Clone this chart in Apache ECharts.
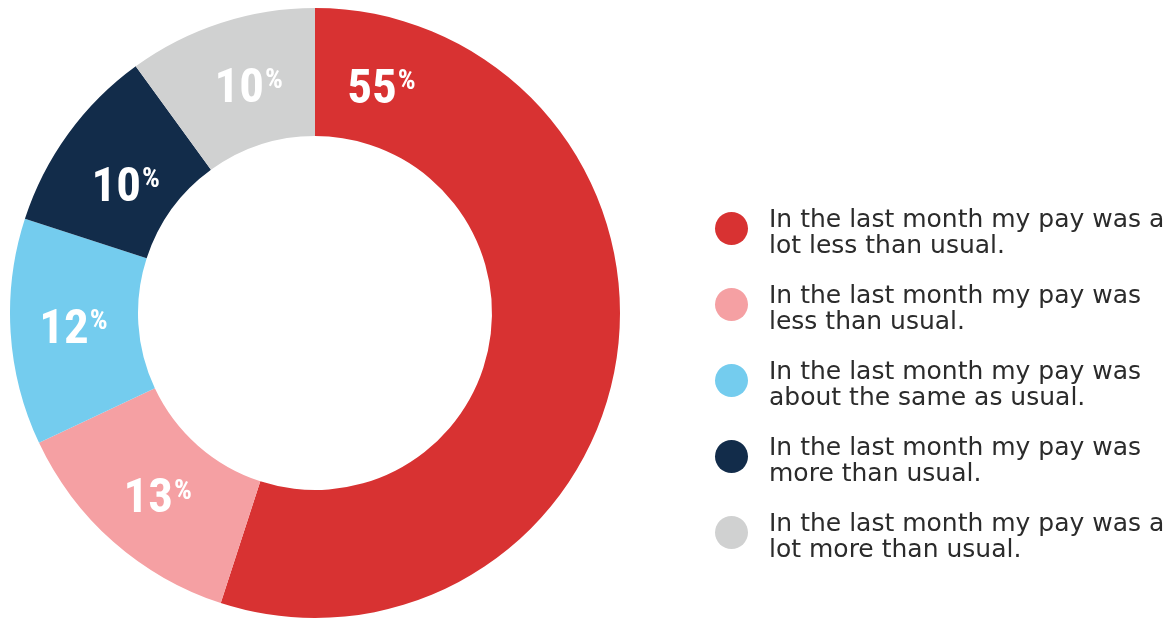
<!DOCTYPE html>
<html>
<head>
<meta charset="utf-8">
<script src="https://cdn.jsdelivr.net/npm/echarts@6/dist/echarts.min.js"></script>
<style>
  html, body { margin: 0; padding: 0; background: #fff; }
  #chart { width: 1175px; height: 618px; }
</style>
</head>
<body>
<div id="chart"></div>
<script>
// data
var categories = [
    'In the last month my pay was a lot less than usual.',
    'In the last month my pay was less than usual.',
    'In the last month my pay was about the same as usual.',
    'In the last month my pay was more than usual.',
    'In the last month my pay was a lot more than usual.'
];
var values = [55, 13, 12, 10, 10];
var colors = ['#D83232', '#F5A0A3', '#74CCEE', '#122C4A', '#D0D1D1'];

var cx = 315, cy = 313, r0 = 177, r1 = 305;
var numFont = '"Roboto Condensed", "Noto Sans Condensed", "DejaVu Sans Condensed", sans-serif';
var legendFont = '"DejaVu Sans", sans-serif';
// small nudges so the labels sit where the original put them
var labelNudge = [[0, 9], [4, 4], [2, 2], [8, 19], [9, 9]];

var mychart = echarts.init(document.getElementById('chart'));

var pieData = [];
for (var i = 0; i < categories.length; i++) {
    pieData.push({ name: categories[i], value: values[i], itemStyle: { color: colors[i] } });
}

option = {
    animation: false,
    legend: {
        orient: 'vertical',
        left: 710,
        top: 193,
        icon: 'circle',
        itemWidth: 33,
        itemHeight: 33,
        itemGap: 15,
        selectedMode: false,
        data: categories,
        formatter: function (name) {
            // wrap like the original: break before "lot"/"less"/"about"/"more"
            var parts = name.replace(/ (lot|less|about|more) /, '\n$1 ').split('\n');
            return '{a|' + parts[0] + '}\n{a|' + parts[1] + '}';
        },
        textStyle: {
            fontFamily: legendFont,
            fontSize: 25,
            color: '#2b2b2b',
            padding: [0, 0, 0, 16],
            rich: {
                a: { fontFamily: legendFont, fontSize: 25, lineHeight: 26, color: '#2b2b2b', padding: [10, 0, 0, 0] }
            }
        }
    },
    series: [
        {
            type: 'pie',
            center: [cx, cy],
            radius: [r0, r1],
            startAngle: 90,
            clockwise: true,
            silent: true,
            data: pieData,
            label: {
                show: true,
                position: 'inside',
                formatter: function (p) {
                    return '{n|' + p.value + '}{p|%}';
                },
                rich: {
                    n: { fontFamily: numFont, fontWeight: 'bold', fontSize: 49, color: '#fff', lineHeight: 49 },
                    p: { fontFamily: numFont, fontWeight: 'bold', fontSize: 28, color: '#fff', lineHeight: 28, verticalAlign: 'top', padding: [2, 0, 0, 1] }
                }
            },
            labelLine: { show: false },
            labelLayout: function (params) {
                var d = labelNudge[params.dataIndex];
                if (params.dataIndex === 0) {
                    // the big slice carries its label near the top, not at mid-angle
                    var a = 16 * Math.PI / 180, rm = (r0 + r1) / 2;
                    return { x: cx + rm * Math.sin(a) + d[0], y: cy - rm * Math.cos(a) + d[1] };
                }
                return { dx: d[0], dy: d[1] };
            }
        }
    ]
};

mychart.setOption(option);
</script>
</body>
</html>
